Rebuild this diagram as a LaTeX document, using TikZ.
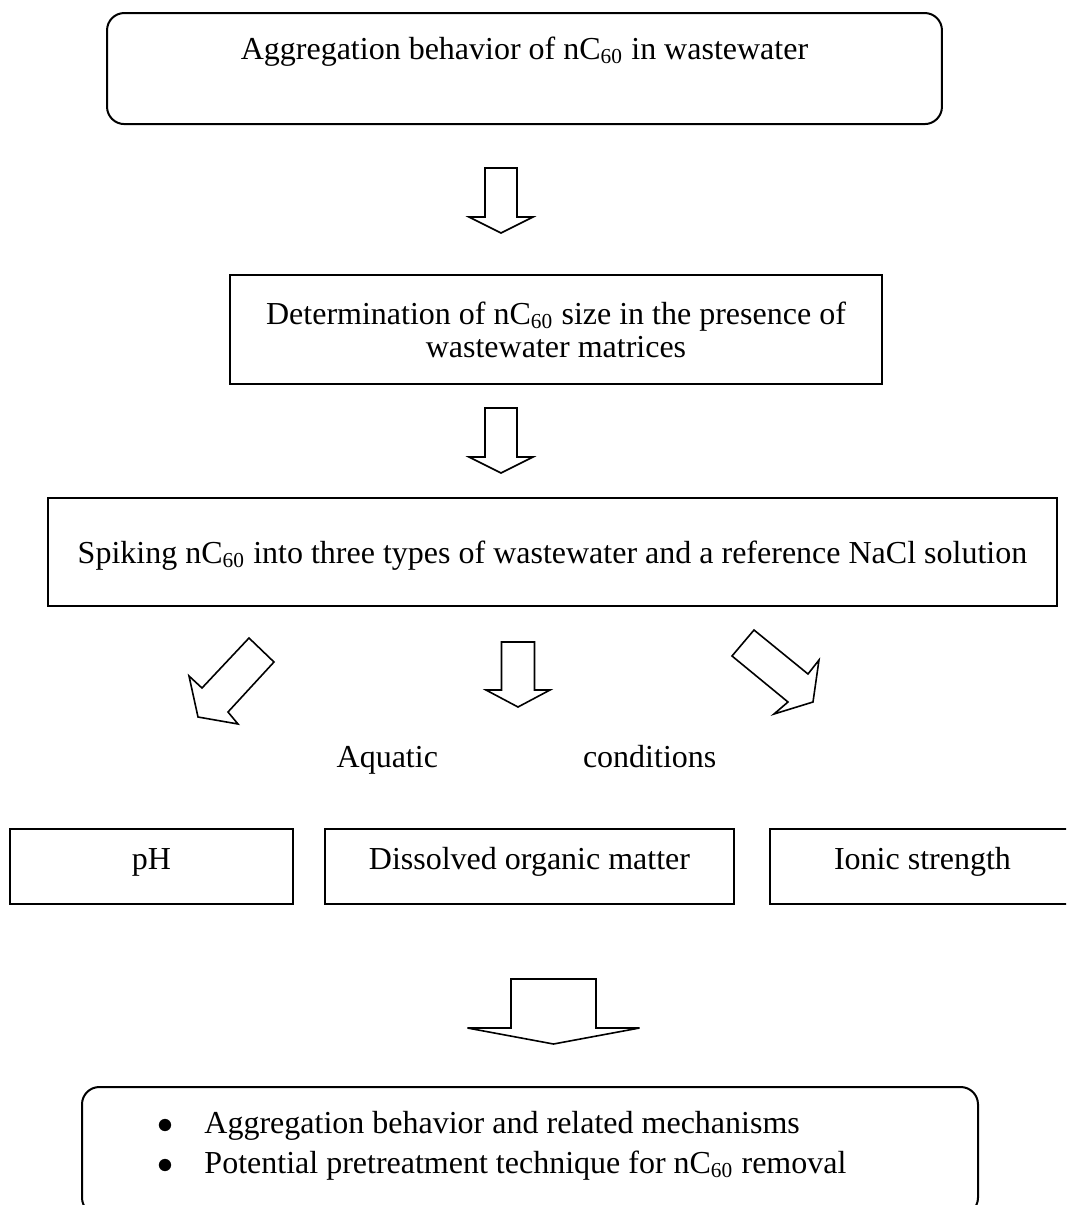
\documentclass[tikz,border=0pt]{standalone}
\usepackage{fontspec}
\setmainfont{Liberation Serif}
\usetikzlibrary{positioning}
\tikzset{
    every node/.style={
        font=\fontsize{12}{12.4}\selectfont,
        inner sep=0pt},
    stepbox/.style={
        draw,
        line width=0.75pt,
        align=center},
    roundbox/.style={
        stepbox,
        rounded corners=6.5pt},
    blockarrow/.style={
        draw,
        line width=0.6pt,
        line join=miter},
    pics/downarrow/.style n args={4}{code={
        \draw[blockarrow] (-#1,0) -- (#1,0) -- (#1,#3) -- (#2,#3)
            -- (0,#3+#4) -- (-#2,#3) -- (-#1,#3) -- cycle;}}}

\begin{document}
\begin{tikzpicture}[x=0.375pt,y=-0.375pt]
        \useasboundingbox (0,0) rectangle (1066,1205);
        \clip (0,0) rectangle (1066,1205);

        \node[roundbox,anchor=base,minimum width=313.1pt,
            text height=17.25pt,text depth=24.4pt] (goal) at (524.5,59)
            {Aggregation behavior of nC\textsubscript{60} in wastewater};
        \node[stepbox,minimum width=244.5pt,minimum height=40.9pt] (size) at (556,329.5)
            {Determination of nC\textsubscript{60} size in the presence of\\wastewater matrices};
        \node[stepbox,anchor=base,minimum width=378.4pt,
            text height=24.4pt,text depth=16.1pt] (spike) at (552.5,563)
            {Spiking nC\textsubscript{60} into three types of wastewater and a reference NaCl solution};

        \node[anchor=base] (aquatic) at (526.5,767) {Aquatic\hspace{54.4pt}conditions};

        \node[stepbox,anchor=base,minimum width=106.1pt,
            text height=15pt,text depth=13.1pt] (ph) at (151.5,869) {pH};
        \node[stepbox,anchor=base,minimum width=153.4pt,
            text height=15pt,text depth=13.1pt] (dom) at (529.5,869) {Dissolved organic matter};
        \node[stepbox,anchor=base,minimum width=114.4pt,
            text height=15pt,text depth=13.1pt] (ionic) at (922.5,869) {Ionic strength};

        \node[roundbox,minimum width=336pt,minimum height=48pt] (result) at (530,1151) {};
        \node[anchor=base west] (item1) at (157,1133)
            {\makebox[17.6pt][l]{$\bullet$}Aggregation behavior and related mechanisms};
        \node[anchor=base west] (item2) at (157,1173)
            {\makebox[17.6pt][l]{$\bullet$}Potential pretreatment technique for nC\textsubscript{60} removal};

        % block arrows
        \pic at (501,168) {downarrow={16}{32}{49}{16}};
        \pic at (501,408) {downarrow={16}{32}{49}{16}};
        \pic at (518,642) {downarrow={16.5}{32}{48}{17}};
        \pic at (553.5,979) {downarrow={42.5}{86}{49}{16}};
        \draw[blockarrow] (249,638) -- (274,662) -- (228,712) -- (238,724)
            -- (198,717) -- (189,676) -- (202,688) -- cycle;
        \draw[blockarrow] (754,630) -- (808,674) -- (819,660) -- (813,702)
            -- (774,714) -- (788,702) -- (732,656) -- cycle;
    \end{tikzpicture}
\end{document}
